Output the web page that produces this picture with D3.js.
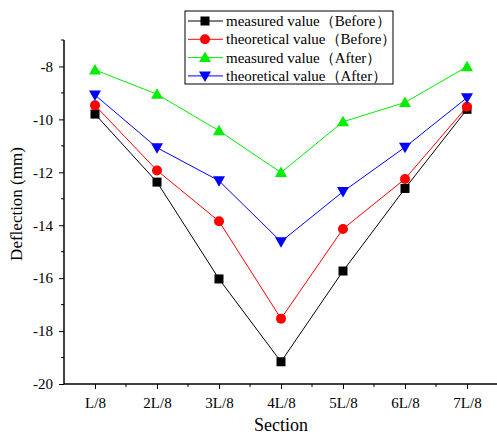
<!DOCTYPE html>
<html>
<head>
<meta charset="utf-8">
<script src="https://cdnjs.cloudflare.com/ajax/libs/d3/7.8.5/d3.min.js"></script>
<style>
  body{margin:0;background:#fff;}
  svg text{font-family:"Liberation Serif","Times New Roman",serif;}
</style>
</head>
<body>
<div class="chart"></div>
<script>
var sections = ["L/8","2L/8","3L/8","4L/8","5L/8","6L/8","7L/8"];
var measuredBefore = [-9.8,-12.37,-16.03,-19.16,-15.73,-12.61,-9.62];
var theoryBefore   = [-9.47,-11.93,-13.85,-17.53,-14.14,-12.25,-9.52];
var measuredAfter  = [-8.13,-9.05,-10.43,-12.01,-10.09,-9.36,-8.01];
var theoryAfter    = [-9.08,-11.07,-12.32,-14.62,-12.73,-11.05,-9.18];
var yTicks = [-20,-18,-16,-14,-12,-10,-8];
var seriesNames = ["measured value\uFF08Before\uFF09","theoretical value\uFF08Before\uFF09",
                   "measured value\uFF08After\uFF09","theoretical value\uFF08After\uFF09"];

var W = 497, H = 437;
var mLeft = 64, mRight = 498, mTop = 40, mBottom = 384;

var svg = d3.select(".chart").append("svg").attr("width",W).attr("height",H);

var x = d3.scaleLinear().domain([0.5,7.5]).range([mLeft,mRight]);
var y = d3.scaleLinear().domain([-20,-7]).range([mBottom,mTop]);

var series = [
  {name:seriesNames[0], vals:measuredBefore, color:"#000000", sym:"square"},
  {name:seriesNames[1], vals:theoryBefore,   color:"#ff0000", sym:"circle"},
  {name:seriesNames[2], vals:measuredAfter,  color:"#00ee00", sym:"up"},
  {name:seriesNames[3], vals:theoryAfter,    color:"#0000ff", sym:"down"}
];

// minor ticks
var minorY = d3.range(-19,-6,2);
var xMinor = d3.range(1.5,7.5,1);
var g = svg.append("g");
g.selectAll(".ymin").data(minorY).enter().append("line")
  .attr("x1",mLeft-3).attr("x2",mLeft).attr("y1",function(d){return y(d);}).attr("y2",function(d){return y(d);})
  .style("stroke","#000");
g.selectAll(".xmin").data(xMinor).enter().append("line")
  .attr("x1",function(d){return x(d);}).attr("x2",function(d){return x(d);}).attr("y1",mBottom).attr("y2",mBottom+3)
  .style("stroke","#000");

var yAxis = svg.append("g").attr("transform","translate("+mLeft+",0)")
  .call(d3.axisLeft(y).tickValues(yTicks).tickSize(5).tickPadding(6).tickFormat(function(d){return d;}));
var xAxis = svg.append("g").attr("transform","translate(0,"+mBottom+")")
  .call(d3.axisBottom(x).tickValues(d3.range(1,8)).tickSize(5).tickPadding(8).tickFormat(function(d){return sections[d-1];}));
[yAxis,xAxis].forEach(function(a){
  a.select(".domain").style("stroke","#000").style("stroke-width","1.5px");
  a.selectAll("text").style("font-family","Liberation Serif").style("font-size","15px").style("fill","#000");
});
yAxis.select(".domain").attr("d","M0,"+mTop+"V"+mBottom);
xAxis.select(".domain").attr("d","M"+mLeft+",0H"+mRight);

svg.append("text").attr("x",281).attr("y",431).attr("text-anchor","middle")
  .style("font-size","18px").text("Section");
svg.append("text").attr("transform","translate(22,204) rotate(-90)").attr("text-anchor","middle")
  .style("font-size","17px").text("Deflection (mm)");

function marker(sel,sym,color){
  if(sym=="square"){
    sel.append("rect").attr("x",-4.5).attr("y",-4.5).attr("width",9).attr("height",9).style("fill",color);
  } else if(sym=="circle"){
    sel.append("circle").attr("r",5).style("fill",color);
  } else if(sym=="up"){
    sel.append("path").attr("d","M0,-6L6,4.5L-6,4.5Z").style("fill",color);
  } else {
    sel.append("path").attr("d","M0,6L6,-4.5L-6,-4.5Z").style("fill",color);
  }
}

var line = d3.line().x(function(d,i){return x(i+1);}).y(function(d){return y(d);});
series.forEach(function(s){
  svg.append("path").attr("d",line(s.vals)).style("fill","none").style("stroke",s.color).style("stroke-width","1px");
  s.vals.forEach(function(v,i){
    marker(svg.append("g").attr("transform","translate("+x(i+1)+","+y(v)+")"),s.sym,s.color);
  });
});

// legend
var lg = svg.append("g").attr("transform","translate(185,11)");
lg.append("rect").attr("width",208).attr("height",73).style("fill","#fff").style("stroke","#000").style("stroke-width","1px");
series.forEach(function(s,i){
  var row = lg.append("g").attr("transform","translate(0,"+(10+i*18.3)+")");
  row.append("line").attr("x1",3).attr("x2",38).style("stroke",s.color);
  marker(row.append("g").attr("transform","translate(20,0)"),s.sym,s.color);
  row.append("text").attr("x",41).attr("y",5).style("font-size","15px").text(s.name);
});
</script>
</body>
</html>
